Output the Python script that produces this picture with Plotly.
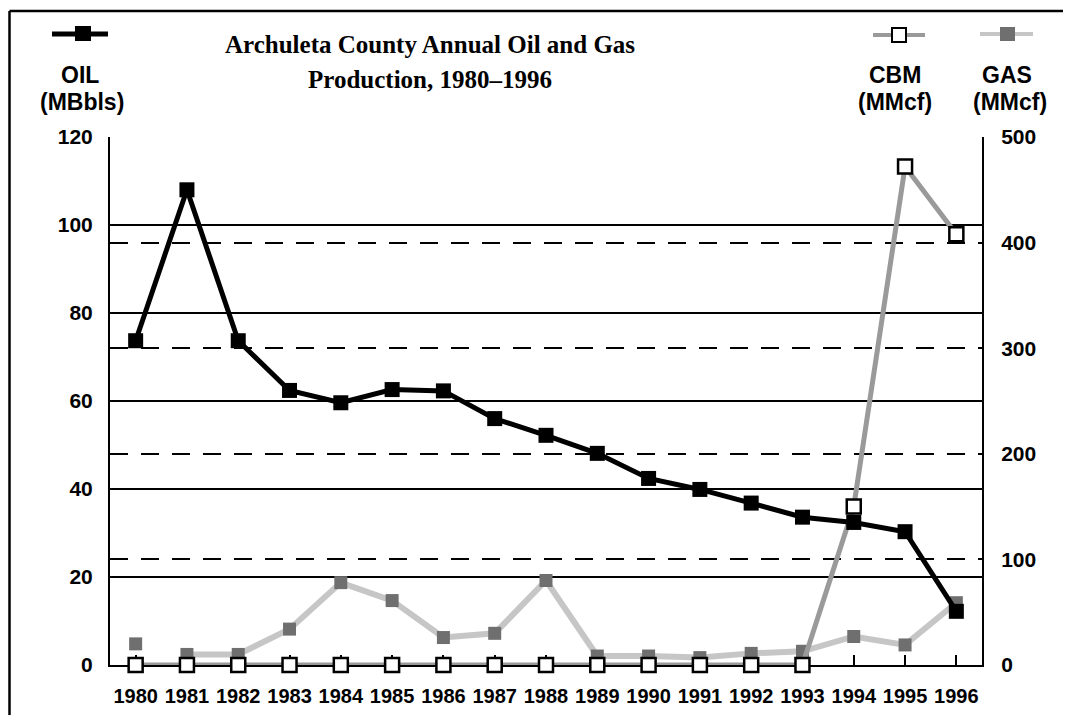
import plotly.graph_objects as go

years = list(range(1980, 1997))
oil_mbbls = [73.7, 108.0, 73.7, 62.4, 59.6, 62.6, 62.3, 56.0, 52.2, 48.1, 42.4, 39.9, 36.8, 33.6, 32.4, 30.3, 12.2]
gas_mmcf = [20, 10, 10, 34, 78, 61, 26, 30, 80, 8.5, 8.5, 7, 11, 13, 27, 19, 59]
cbm_mmcf = [0, 0, 0, 0, 0, 0, 0, 0, 0, 0, 0, 0, 0, 0, 150, 472, 408]
year_labels = [str(y) for y in years]
oil_ticks = [0, 20, 40, 60, 80, 100, 120]
gas_ticks = [0, 100, 200, 300, 400, 500]

# page body has an 8px margin; work in screen pixels, convert to figure
OFF = 8
SW, SH = 1071, 723
W, H = SW - 2 * OFF, SH - 2 * OFF
L, R, T, B = 110, 982, 137, 665  # plot area in screen pixels


def px(x):
    return (x - L) / (R - L)


def py(y):
    return (B - y) / (B - T)


SANS = "Liberation Sans"
SERIF = "Liberation Serif"
GAS_LINE = "#c6c6c6"
GAS_MARK = "#6f6f6f"
CBM_LINE = "#9a9a9a"
CLEAR = "rgba(0,0,0,0)"

fig = go.Figure()

# Gas (right axis) - line starts at 1981
fig.add_trace(go.Scatter(x=years[1:], y=gas_mmcf[1:], mode="lines",
                         line=dict(color=GAS_LINE, width=6), yaxis="y",
                         showlegend=False, hoverinfo="skip"))
fig.add_trace(go.Scatter(x=years, y=gas_mmcf, mode="markers", name="GAS (MMcf)",
                         marker=dict(symbol="square", size=13, color=GAS_MARK,
                                     line=dict(width=0)), yaxis="y", showlegend=False))
# CBM (right axis)
fig.add_trace(go.Scatter(x=years, y=cbm_mmcf, mode="lines+markers", name="CBM (MMcf)",
                         line=dict(color=CBM_LINE, width=5),
                         marker=dict(symbol="square", size=14, color="white",
                                     line=dict(color="black", width=2.5)),
                         yaxis="y", showlegend=False, cliponaxis=False))
# Oil (left axis)
fig.add_trace(go.Scatter(x=years, y=oil_mbbls, mode="lines+markers", name="OIL (MBbls)",
                         line=dict(color="black", width=5),
                         marker=dict(symbol="square", size=15, color="black"),
                         yaxis="y2", showlegend=False))

shapes = []
# outer frame (left and top edges)
shapes.append(dict(type="line", xref="paper", yref="paper", x0=px(9.5), x1=px(SW + 5),
                   y0=py(11), y1=py(11), line=dict(color="black", width=2.5)))
shapes.append(dict(type="line", xref="paper", yref="paper", x0=px(9.5), x1=px(9.5),
                   y0=py(11), y1=py(SH + 5), line=dict(color="black", width=2.5)))
# legend samples
shapes.append(dict(type="line", xref="paper", yref="paper", x0=px(52), x1=px(108),
                   y0=py(34), y1=py(34), line=dict(color="black", width=5)))
shapes.append(dict(type="rect", xref="paper", yref="paper", x0=px(75), x1=px(91),
                   y0=py(26), y1=py(41), fillcolor="black", line=dict(width=0)))
shapes.append(dict(type="line", xref="paper", yref="paper", x0=px(873), x1=px(925),
                   y0=py(35), y1=py(35), line=dict(color=CBM_LINE, width=4)))
shapes.append(dict(type="rect", xref="paper", yref="paper", x0=px(892), x1=px(906),
                   y0=py(28), y1=py(42), fillcolor="white", line=dict(color="black", width=2)))
shapes.append(dict(type="line", xref="paper", yref="paper", x0=px(980), x1=px(1033),
                   y0=py(34), y1=py(34), line=dict(color=GAS_LINE, width=4)))
shapes.append(dict(type="rect", xref="paper", yref="paper", x0=px(1000), x1=px(1015),
                   y0=py(27), y1=py(41), fillcolor=GAS_MARK, line=dict(width=0)))

annotations = []


def txt(s, x, y, size, family=SANS, weight="bold"):
    annotations.append(dict(text=s, xref="paper", yref="paper", x=px(x), y=py(y),
                            xanchor="center", yanchor="middle", showarrow=False,
                            font=dict(family=family, size=size, color="black", weight=weight)))


txt("Archuleta County Annual Oil and Gas", 430, 44, 25, SERIF)
txt("Production, 1980\u20131996", 430, 79, 25, SERIF)
txt("OIL", 80, 75, 23)
txt("(MBbls)", 82, 102, 23)
txt("CBM", 895, 75, 23)
txt("(MMcf)", 895, 102, 23)
txt("GAS", 1007, 75, 23)
txt("(MMcf)", 1010, 102, 23)

fig.update_layout(
    width=W, height=H,
    margin=dict(l=L - OFF, r=W - (R - OFF), t=T - OFF, b=H - (B - OFF), autoexpand=False),
    paper_bgcolor="white", plot_bgcolor="white",
    showlegend=False,
    shapes=shapes, annotations=annotations,
    xaxis=dict(range=[1979.5, 1996.5], tickmode="array", tickvals=years, ticktext=year_labels,
               showgrid=False, zeroline=False, showline=True, linecolor="black", linewidth=2,
               ticks="inside", ticklen=10, tickwidth=2, tickcolor="black",
               layer="below traces", ticklabelstandoff=12,
               tickfont=dict(family=SANS, size=20, color="black", weight="bold")),
    yaxis=dict(range=[0, 500], tickmode="array", tickvals=gas_ticks, side="right",
               showgrid=True, gridcolor="black", gridwidth=1.5, griddash="18px,13px",
               zeroline=False, showline=True, linecolor="black", linewidth=2,
               ticks="outside", ticklen=13, tickcolor=CLEAR,
               tickfont=dict(family=SANS, size=21, color="black", weight="bold")),
    yaxis2=dict(range=[0, 120], tickmode="array", tickvals=oil_ticks, side="left",
                overlaying="y", anchor="x",
                showgrid=True, gridcolor="black", gridwidth=1.5,
                zeroline=False, showline=True, linecolor="black", linewidth=2,
                ticks="outside", ticklen=11, tickcolor=CLEAR,
                tickfont=dict(family=SANS, size=21, color="black", weight="bold")),
)

fig.write_html("out.html")
